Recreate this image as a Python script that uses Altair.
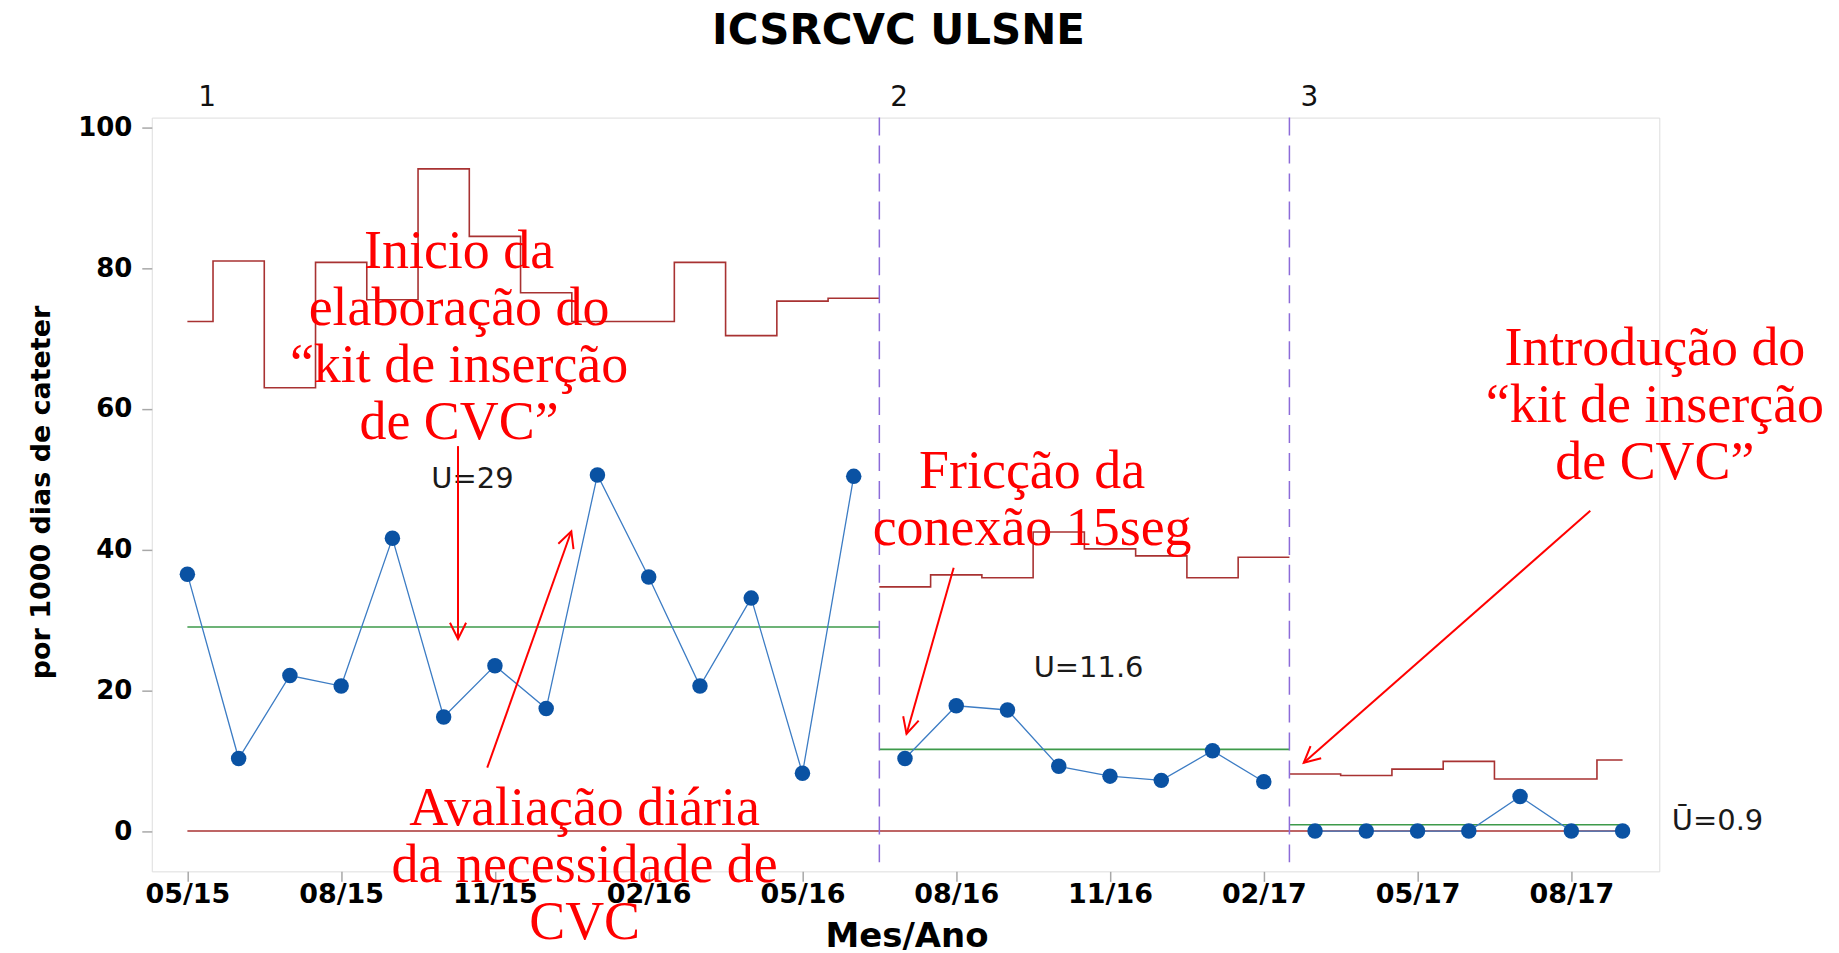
import math
import altair as alt
import pandas as pd

# ---------------- data ----------------
chart_title = "ICSRCVC ULSNE"
months = ["05/15", "06/15", "07/15", "08/15", "09/15", "10/15", "11/15", "12/15",
          "01/16", "02/16", "03/16", "04/16", "05/16", "06/16",
          "07/16", "08/16", "09/16", "10/16", "11/16", "12/16", "01/17", "02/17",
          "03/17", "04/17", "05/17", "06/17", "07/17", "08/17", "09/17"]
rates = [36.5, 10.3, 22.1, 20.6, 41.6, 16.2, 23.5, 17.4, 50.6, 36.1, 20.6, 33.1, 8.2, 50.4,
         10.3, 17.8, 17.2, 9.2, 7.8, 7.2, 11.4, 7.0,
         0.0, 0.0, 0.0, 0.0, 4.9, 0.0, 0.0]
ucl = [72.4, 81.0, 63.0, 80.8, 75.5, 94.1, 84.5, 76.5, 72.4, 72.4, 80.8, 70.4, 75.3, 75.7,
       34.7, 36.4, 36.0, 42.5, 40.1, 39.1, 36.0, 38.9,
       8.1, 7.9, 8.8, 9.9, 7.4, 7.4, 10.1]
phases = [1] * 14 + [2] * 8 + [3] * 7
phase_names = ["1", "2", "3"]
phase_start = [0, 13.5, 21.5]
phase_end = [13.5, 21.5, 28]
centers = [29, 11.6, 0.9]
lcl_value = 0
center_labels = ["U=29", "U=11.6", "Ū=0.9"]
center_label_x = [4.76, 16.51, 28.96]
center_label_y = [48.7, 21.9, 0.2]
tick_positions = list(range(0, 29, 3))
tick_labels = months[::3]
y_ticks = [0, 20, 40, 60, 80, 100]

ann_texts = ["Inicio da\nelaboração do\n“kit de inserção\nde CVC”",
             "Avaliação diária\nda necessidade de\nCVC",
             "Fricção da\nconexão 15seg",
             "Introdução do\n“kit de inserção\nde CVC”"]
ann_x = [5.30, 7.75, 16.48, 28.63]
ann_y = [80.0, 0.9, 48.8, 66.2]
arrow_x0 = [5.28, 5.85, 14.95, 27.37]
arrow_y0 = [54.7, 9.0, 37.4, 45.5]
arrow_x1 = [5.28, 7.49, 14.03, 21.78]
arrow_y1 = [27.3, 42.6, 13.8, 9.7]

# ---------------- layout ----------------
W, H = 1510, 755
XMIN, XMAX = -0.695, 28.716
YMIN, YMAX = -5.73, 101.38
px_x = W / (XMAX - XMIN)
px_y = H / (YMAX - YMIN)

RED = "#ff0000"
LIMIT = "#a83232"
GREEN = "#3d9a4a"
AXIS_GREY = "#a8a8a8"

xs = alt.Scale(domain=[XMIN, XMAX], nice=False, zero=False)
ys = alt.Scale(domain=[YMIN, YMAX], nice=False, zero=False)

label_expr = "[" + ",".join("'%s'" % t for t in tick_labels) + "][round(datum.value/3)]"

x_axis = alt.Axis(values=tick_positions, labelExpr=label_expr, title="Mes/Ano",
                  grid=False, domain=False, tickColor=AXIS_GREY, tickWidth=1.5,
                  tickSize=10, labelPadding=0, labelFont="DejaVu Sans",
                  labelFontWeight="bold", labelFontSize=27, labelColor="#000000",
                  labelFlush=False, labelOverlap=False,
                  titleFont="DejaVu Sans", titleFontWeight="bold",
                  titleFontSize=34, titleColor="#000000",
                  titleX=756, titleY=75, titleBaseline="alphabetic",
                  titleAlign="center", titleAnchor="start")
y_axis = alt.Axis(values=y_ticks, title="por 1000 dias de cateter",
                  grid=False, domain=False, tickColor=AXIS_GREY, tickWidth=1.5,
                  tickSize=10, labelPadding=10, labelFont="DejaVu Sans",
                  labelFontWeight="bold", labelFontSize=26, labelColor="#000000",
                  labelFlush=False, labelOverlap=False,
                  titleFont="DejaVu Sans", titleFontWeight="bold",
                  titleFontSize=27, titleColor="#000000",
                  titleX=-102, titleY=375, titleAngle=270,
                  titleBaseline="alphabetic", titleAlign="center",
                  titleAnchor="start")


def X(field):
    return alt.X(field, scale=xs, axis=x_axis)


def Y(field):
    return alt.Y(field, scale=ys, axis=y_axis)


# ---------------- tables ----------------
pts = pd.DataFrame({"i": list(range(len(months))), "month": months,
                    "rate": rates, "phase": phases})

step_rows = []
for i, (u, p) in enumerate(zip(ucl, phases)):
    x0 = max(i - 0.5, 0)
    x1 = min(i + 0.5, len(months) - 1)
    step_rows.append({"x": x0, "y": u, "phase": p, "o": 2 * i})
    step_rows.append({"x": x1, "y": u, "phase": p, "o": 2 * i + 1})
steps = pd.DataFrame(step_rows)

cl = pd.DataFrame({"x0": phase_start, "x1": phase_end, "c": centers})
lcl_df = pd.DataFrame({"x0": [0], "x1": [len(months) - 1], "c": [lcl_value]})
bounds = pd.DataFrame({"x": phase_start[1:]})
plabels = pd.DataFrame({"x": [0] + phase_start[1:], "t": phase_names})
clab = pd.DataFrame({"x": center_label_x, "y": center_label_y, "t": center_labels})
ann = pd.DataFrame({"x": ann_x, "y": ann_y, "t": ann_texts})

angles = []
for a, b, c, d in zip(arrow_x0, arrow_y0, arrow_x1, arrow_y1):
    dxp = (c - a) * px_x
    dyp = -(d - b) * px_y
    angles.append(math.degrees(math.atan2(-dxp, dyp)) % 360)
arrows = pd.DataFrame({"x0": arrow_x0, "y0": arrow_y0, "x1": arrow_x1,
                       "y1": arrow_y1, "ang": angles})

# ---------------- layers ----------------
ucl_line = alt.Chart(steps).mark_line(color=LIMIT, strokeWidth=1.6).encode(
    x=X("x:Q"), y=Y("y:Q"), detail="phase:N", order="o:Q",
)

lcl_rule = alt.Chart(lcl_df).mark_rule(color=LIMIT, strokeWidth=1.6).encode(
    x=X("x0:Q"), x2="x1:Q", y=Y("c:Q"),
)

center_rule = alt.Chart(cl).mark_rule(color=GREEN, strokeWidth=1.6).encode(
    x=X("x0:Q"), x2="x1:Q", y=Y("c:Q"),
)

phase_rule = alt.Chart(bounds).mark_rule(color="#8c6bd8", strokeWidth=1.5,
                                         strokeDash=[18, 10]).encode(
    x=X("x:Q"),
)

data_line = alt.Chart(pts).mark_line(color="#3c7cc4", strokeWidth=1.3).encode(
    x=X("i:Q"), y=Y("rate:Q"), detail="phase:N",
)

data_pts = alt.Chart(pts).mark_circle(color="#0a52a3", size=240, opacity=1).encode(
    x=X("i:Q"), y=Y("rate:Q"), tooltip=["month:N", "rate:Q"],
)

phase_text = alt.Chart(plabels).mark_text(
    font="DejaVu Sans", fontSize=28, color="#111111", align="left",
    baseline="alphabetic", dx=11,
).encode(x=X("x:Q"), y=alt.value(-12), text="t:N")

center_text = alt.Chart(clab).mark_text(
    font="DejaVu Sans", fontSize=29, color="#1a1a1a", align="left",
    baseline="alphabetic",
).encode(x=X("x:Q"), y=Y("y:Q"), text="t:N")

arrow_shaft = alt.Chart(arrows).mark_rule(color=RED, strokeWidth=2).encode(
    x=X("x0:Q"), x2="x1:Q", y=Y("y0:Q"), y2="y1:Q",
)

arrow_head = alt.Chart(arrows).mark_point(
    shape="M -0.5 -1 L 0 0 L 0.5 -1", filled=False, color=RED, strokeWidth=2,
    size=1040, opacity=1,
).encode(
    x=X("x1:Q"), y=Y("y1:Q"), angle=alt.Angle("ang:Q", scale=None),
)

ann_text = alt.Chart(ann).mark_text(
    font="Liberation Serif", fontSize=54, lineHeight=57, color=RED, align="center",
    baseline="alphabetic", lineBreak="\n",
).encode(x=X("x:Q"), y=Y("y:Q"), text="t:N")

chart = alt.layer(
    ucl_line, lcl_rule, center_rule, phase_rule, data_line, data_pts,
    phase_text, center_text, ann_text, arrow_shaft, arrow_head,
).properties(
    width=W, height=H,
    title=alt.TitleParams(chart_title, font="DejaVu Sans", fontSize=42,
                          fontWeight="bold", color="#000000", anchor="middle",
                          frame="group", offset=31, dx=-7),
    autosize=alt.AutoSizeParams(type="none"),
    padding={"left": 144, "top": 109, "right": 172, "bottom": 80},
).configure_view(
    stroke=AXIS_GREY, strokeWidth=2,
).configure(background="#ffffff")

chart.save("out.html", embed_options={"renderer": "svg", "actions": False})
